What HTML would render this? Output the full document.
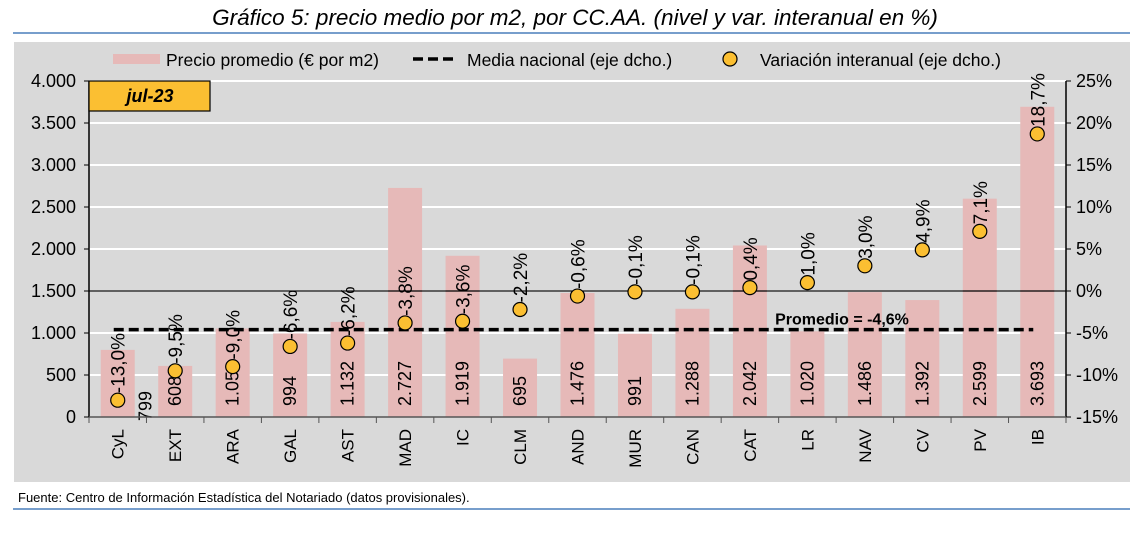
<!DOCTYPE html>
<html><head><meta charset="utf-8"><style>
body{margin:0;background:#fff;width:1134px;height:530px;overflow:hidden}
svg text{font-family:"Liberation Sans",sans-serif}
</style></head><body>
<svg id="c" width="1134" height="530" xmlns="http://www.w3.org/2000/svg">
<text x="575" y="25" text-anchor="middle" font-size="22.5" font-style="italic" fill="#000">Gráfico 5: precio medio por m2, por CC.AA. (nivel y var. interanual en %)</text>
<line x1="13" y1="33" x2="1130" y2="33" stroke="#4a7ebb" stroke-width="1.5"/>
<rect x="14" y="42" width="1116" height="440" fill="#d9d9d9"/>
<g id="g"></g>
<text x="18" y="502" font-size="13">Fuente: Centro de Información Estadística del Notariado (datos provisionales).</text>
<line x1="13" y1="509" x2="1130" y2="509" stroke="#4a7ebb" stroke-width="1.5"/>
</svg>
<script>
const categories=["CyL","EXT","ARA","GAL","AST","MAD","IC","CLM","AND","MUR","CAN","CAT","LR","NAV","CV","PV","IB"];
const prices=[799,608,1053,994,1132,2727,1919,695,1476,991,1288,2042,1020,1486,1392,2599,3693];
const priceLabels=["799","608","1.053","994","1.132","2.727","1.919","695","1.476","991","1.288","2.042","1.020","1.486","1.392","2.599","3.693"];
const variation=[-13.0,-9.5,-9.0,-6.6,-6.2,-3.8,-3.6,-2.2,-0.6,-0.1,-0.1,0.4,1.0,3.0,4.9,7.1,18.7];
const nationalMean=-4.6;
const leftTicks=[0,500,1000,1500,2000,2500,3000,3500,4000];
const leftTickLabels=["0","500","1.000","1.500","2.000","2.500","3.000","3.500","4.000"];
const rightTicks=[-15,-10,-5,0,5,10,15,20,25];

const NS="http://www.w3.org/2000/svg",g=document.getElementById('g');
const X0=89,X1=1066,YB=417,YT=81;
const bw=(X1-X0)/categories.length;
const xc=i=>X0+bw*(i+0.5);
const yL=v=>YB-(v/4000)*(YB-YT);
const yR=v=>YB-((v+15)/40)*(YB-YT);
function mk(t,a,txt){const e=document.createElementNS(NS,t);for(const k in a)e.setAttribute(k,a[k]);if(txt!==undefined)e.textContent=txt;g.appendChild(e);return e;}
const fmt=v=>v.toFixed(1).replace('.',',')+'%';

leftTicks.forEach((v,i)=>{
 if(v>0){const l=mk('line',{x1:X0,x2:X1,y1:yL(v),y2:yL(v),stroke:'#fff','stroke-width':2});
 
 }
 const t=mk('text',{x:X0-13,y:yL(v)+6,'text-anchor':'end','font-size':18},leftTickLabels[i]);
 
 
 mk('line',{x1:X0-5,x2:X0,y1:yL(v),y2:yL(v),stroke:'#000'});
});
rightTicks.forEach(v=>{
 const t=mk('text',{x:X1+10,y:yR(v)+6,'font-size':18},v+'%');
 
 
 mk('line',{x1:X1,x2:X1+5,y1:yR(v),y2:yR(v),stroke:'#000'});
});
categories.forEach((c,i)=>{
 const h=yL(0)-yL(prices[i]);
 const b=mk('rect',{x:xc(i)-17,y:yL(prices[i]),width:34,height:h,fill:'#e6b9b8'});
 
 
});
const z=mk('line',{x1:X0,x2:X1,y1:yR(0),y2:yR(0),stroke:'#000','stroke-width':1.2});


const m=mk('line',{x1:xc(0)-4,x2:xc(16)-4,y1:yR(nationalMean),y2:yR(nationalMean),stroke:'#000','stroke-width':3.5,'stroke-dasharray':'10,5'});


const ml=mk('text',{x:842,y:yR(nationalMean)-5,'text-anchor':'middle','font-size':16,'font-weight':'bold'},'Promedio = '+fmt(nationalMean));



categories.forEach((c,i)=>{
 const x=xc(i);
 const off=i===0?28:0, yb=i===0?421:406;
 const vl=mk('text',{x:0,y:0,'font-size':18,transform:`translate(${x+off+6},${yb}) rotate(-90)`},priceLabels[i]);
 
 
 const py=yR(variation[i]);
 const p=mk('circle',{cx:x,cy:py,r:7,fill:'#fbbf32',stroke:'#000','stroke-width':1.2});
 
 
 const pl=mk('text',{x:0,y:0,'font-size':19,transform:`translate(${x+7},${py-7}) rotate(-90)`},fmt(variation[i]));
 
 
 const cl=mk('text',{x:0,y:0,'font-size':17,'text-anchor':'end',transform:`translate(${x+6},${YB+12}) rotate(-90)`},c);
 
 
 mk('line',{x1:X0+bw*(i+1),x2:X0+bw*(i+1),y1:YB,y2:YB+6,stroke:'#555'});
});
const ax=mk('line',{x1:X0,x2:X0,y1:YT,y2:YB,stroke:'#000','stroke-width':1.5});

const ar=mk('line',{x1:X1,x2:X1,y1:YT,y2:YB,stroke:'#000','stroke-width':1.5});

const axb=mk('line',{x1:X0,x2:X1,y1:YB,y2:YB,stroke:'#555','stroke-width':1.5});

mk('line',{x1:X0,x2:X0,y1:YB,y2:YB+6,stroke:'#555'});

const db=mk('rect',{x:89,y:81,width:121,height:30,fill:'#fbbf32',stroke:'#000','stroke-width':1.2});

const dt=mk('text',{x:150,y:102,'text-anchor':'middle','font-size':18,'font-weight':'bold','font-style':'italic'},'jul-23');


const l1=mk('rect',{x:113,y:54,width:47,height:10,fill:'#e6b9b8'});

const t1=mk('text',{x:166,y:66,'font-size':17.5},'Precio promedio (€ por m2)');

const l2=mk('line',{x1:413,x2:457,y1:59,y2:59,stroke:'#000','stroke-width':3.5,'stroke-dasharray':'10,5'});

const t2=mk('text',{x:467,y:66,'font-size':17.5},'Media nacional (eje dcho.)');

const l3=mk('circle',{cx:730,cy:59,r:7,fill:'#fbbf32',stroke:'#000','stroke-width':1.2});

const t3=mk('text',{x:760,y:66,'font-size':17.5},'Variación interanual (eje dcho.)');

</script>
</body></html>
